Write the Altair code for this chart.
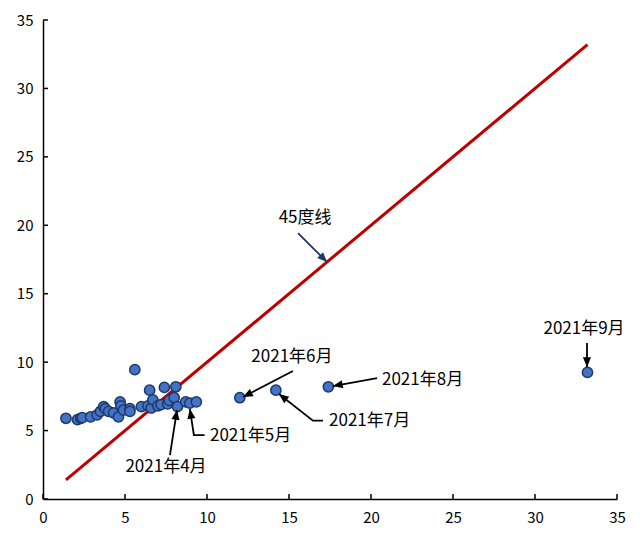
import math
import altair as alt
import pandas as pd

# ---- data ----
pt_x = [1.4, 2.1, 2.3, 2.4, 2.9, 3.3, 3.5, 3.7, 3.8, 4.0, 4.3, 4.6, 4.7, 4.75, 4.9,
        5.3, 5.3, 5.6, 6.0, 6.4, 6.5, 6.6, 6.7, 7.0, 7.2, 7.4, 7.6, 7.7, 8.0, 8.1,
        8.2, 8.7, 8.95, 9.35, 12.0, 14.2, 17.4, 33.2]
pt_y = [5.9, 5.8, 5.9, 5.95, 6.0, 6.15, 6.4, 6.75, 6.6, 6.4, 6.3, 6.0, 7.1, 6.8, 6.5,
        6.6, 6.4, 9.45, 6.75, 6.8, 7.95, 6.65, 7.25, 6.8, 6.9, 8.15, 6.95, 7.2, 7.4, 8.2,
        6.75, 7.1, 7.0, 7.1, 7.4, 7.95, 8.2, 9.25]

diag_x = [1.4, 33.2]
diag_y = [1.4, 33.2]

tick_vals = [0, 5, 10, 15, 20, 25, 30, 35]

label_text = ["45度线", "2021年6月", "2021年8月", "2021年7月", "2021年5月", "2021年4月", "2021年9月"]
label_x = [15.98, 15.18, 20.67, 17.44, 10.18, 7.5, 32.99]
label_y = [20.53, 10.37, 8.69, 5.70, 4.60, 2.36, 12.42]
label_align = ["center", "center", "left", "left", "left", "center", "center"]

arrow_id = ["a45", "a45", "jun", "jun", "aug", "aug", "jul", "jul", "jul",
            "may", "may", "may", "apr", "apr", "sep", "sep"]
arrow_x = [15.55, 17.32, 15.24, 12.2, 20.37, 17.68, 17.07, 16.46, 14.39,
           9.85, 9.2, 8.96, 7.74, 8.17, 33.17, 33.17]
arrow_y = [19.43, 17.31, 9.35, 7.45, 8.84, 8.25, 5.72, 5.72, 7.67,
           4.67, 4.67, 6.57, 3.21, 6.5, 11.4, 9.64]

W, H = 574, 479
FONT = "Noto Sans CJK SC"

pts = pd.DataFrame({"x": pt_x, "y": pt_y})
diag = pd.DataFrame({"x": diag_x, "y": diag_y})
labels = pd.DataFrame({"x": label_x, "y": label_y, "t": label_text, "al": label_align})
arr = pd.DataFrame({"id": arrow_id, "x": arrow_x, "y": arrow_y})
arr["seq"] = range(len(arr))
arr["navy"] = arr["id"] == "a45"

# arrowheads: direction from the last two points of each arrow
sx, sy = W / 35.0, H / 35.0
heads = []
for aid, g in arr.groupby("id", sort=False):
    (x1, y1), (x2, y2) = g[["x", "y"]].values[-2], g[["x", "y"]].values[-1]
    dxp = (x2 - x1) * sx
    dyp = -(y2 - y1) * sy
    ang = math.degrees(math.atan2(dxp, -dyp)) % 360
    heads.append({"id": aid, "x": x2, "y": y2, "ang": ang, "navy": aid == "a45"})
heads = pd.DataFrame(heads)

xs = alt.Scale(domain=[0, 35], nice=False, zero=False)
ys = alt.Scale(domain=[0, 35], nice=False, zero=False)

xaxis = alt.Axis(values=tick_vals, grid=False, tickSize=0, labelPadding=11,
                 domainColor="black", domainWidth=1.5, labelFontSize=15,
                 labelFont=FONT, labelColor="black", title=None, labelFlush=False)
yaxis = alt.Axis(values=tick_vals, grid=False, tickSize=0, labelPadding=10,
                 domainColor="black", domainWidth=1.5, labelFontSize=15,
                 labelFont=FONT, labelColor="black", title=None, labelFlush=False)


def X(f):
    return alt.X(f, scale=xs, axis=xaxis, title=None)


def Y(f):
    return alt.Y(f, scale=ys, axis=yaxis, title=None)


diag_layer = alt.Chart(diag).mark_line(color="#C00000", strokeWidth=3).encode(
    x=X("x:Q"), y=Y("y:Q"))

tick_df = pd.DataFrame({"v": tick_vals})
xticks = alt.Chart(tick_df).mark_rule(color="black", strokeWidth=1.5).encode(
    x=X("v:Q"), y=alt.value(H), y2=alt.value(H - 5))
yticks = alt.Chart(tick_df).mark_rule(color="black", strokeWidth=1.5).encode(
    y=Y("v:Q"), x=alt.value(0), x2=alt.value(5))

points = alt.Chart(pts).mark_point(shape="circle", filled=True, fill="#4472C4",
                                   stroke="#1B3A6B", strokeWidth=1.5, size=105,
                                   opacity=1).encode(x=X("x:Q"), y=Y("y:Q"))

arrow_lines = alt.Chart(arr).mark_line(strokeWidth=1.8).encode(
    x=X("x:Q"), y=Y("y:Q"),
    detail="id:N",
    order=alt.Order("seq:Q"),
    color=alt.Color("navy:N", scale=alt.Scale(domain=[False, True], range=["#000000", "#203864"]), legend=None),
)

arrow_heads = alt.Chart(heads).mark_point(
    shape="M0,0L-0.42,1L0.42,1Z", filled=True, size=380, opacity=1, strokeWidth=0).encode(
    x=X("x:Q"), y=Y("y:Q"),
    angle=alt.Angle("ang:Q", scale=None),
    fill=alt.Fill("navy:N", scale=alt.Scale(domain=[False, True], range=["#000000", "#203864"]), legend=None),
)


def text_layer(al):
    return alt.Chart(labels[labels["al"] == al]).mark_text(
        font=FONT, fontSize=17, color="black", align=al, baseline="middle").encode(
        x=X("x:Q"), y=Y("y:Q"), text="t:N")


chart = alt.layer(
    diag_layer, xticks, yticks, points, arrow_lines, arrow_heads,
    text_layer("center"), text_layer("left"),
).properties(
    width=W, height=H,
    padding={"left": 43, "top": 20, "right": 23, "bottom": 49},
    autosize=alt.AutoSizeParams(type="none"),
    background="white",
).configure_view(stroke=None)

chart.save("out.html", embed_options={"renderer": "svg", "actions": False})
